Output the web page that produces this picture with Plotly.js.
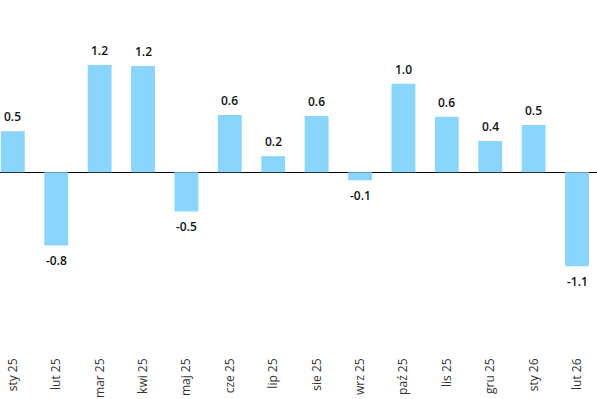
<!DOCTYPE html>
<html>
<head>
<meta charset="utf-8">
<script src="https://cdn.plot.ly/plotly-3.0.1.min.js"></script>
<style>html,body{margin:0;padding:0;background:#fff;}#chart{width:597px;height:399px;}</style>
</head>
<body>
<div id="chart"></div>
<script>
const categories = ["sty 25","lut 25","mar 25","kwi 25","maj 25","cze 25","lip 25","sie 25","wrz 25","paź 25","lis 25","gru 25","sty 26","lut 26"];
const values = [0.46,-0.82,1.20,1.19,-0.44,0.64,0.18,0.63,-0.09,0.99,0.62,0.35,0.53,-1.05];
const labels = ["0.5","-0.8","1.2","1.2","-0.5","0.6","0.2","0.6","-0.1","1.0","0.6","0.4","0.5","-1.1"];

const trace = {
  type: "bar",
  x: categories,
  y: values,
  marker: {color: "#89D5FB"},
  width: 0.55,
  hoverinfo: "none"
};

const annotations = categories.map((c, i) => ({
  x: c, y: values[i], xref: "x", yref: "y",
  text: labels[i], showarrow: false,
  yanchor: "middle", xanchor: "center",
  yshift: values[i] >= 0 ? 14.5 : -15,
  font: {family: "Open Sans", size: 12, color: "#111", weight: 600}
}));

const layout = {
  width: 597, height: 399,
  margin: {l: 0, r: 0, t: 0, b: 49},
  paper_bgcolor: "#fff", plot_bgcolor: "#fff",
  showlegend: false,
  xaxis: {
    type: "category",
    range: [-0.295, 13.46],
    tickangle: -90,
    ticklabelstandoff: 5,
    showgrid: false, zeroline: false, showline: false, ticks: "",
    tickfont: {family: "Open Sans", size: 12, color: "#333"}
  },
  yaxis: {
    range: [-1.988, 1.927],
    showgrid: false, showticklabels: false, ticks: "",
    zeroline: true, zerolinecolor: "#000", zerolinewidth: 1.2,
    showline: false
  },
  annotations: annotations
};

Plotly.newPlot("chart", [trace], layout, {displayModeBar: false, staticPlot: true});
</script>
</body>
</html>
